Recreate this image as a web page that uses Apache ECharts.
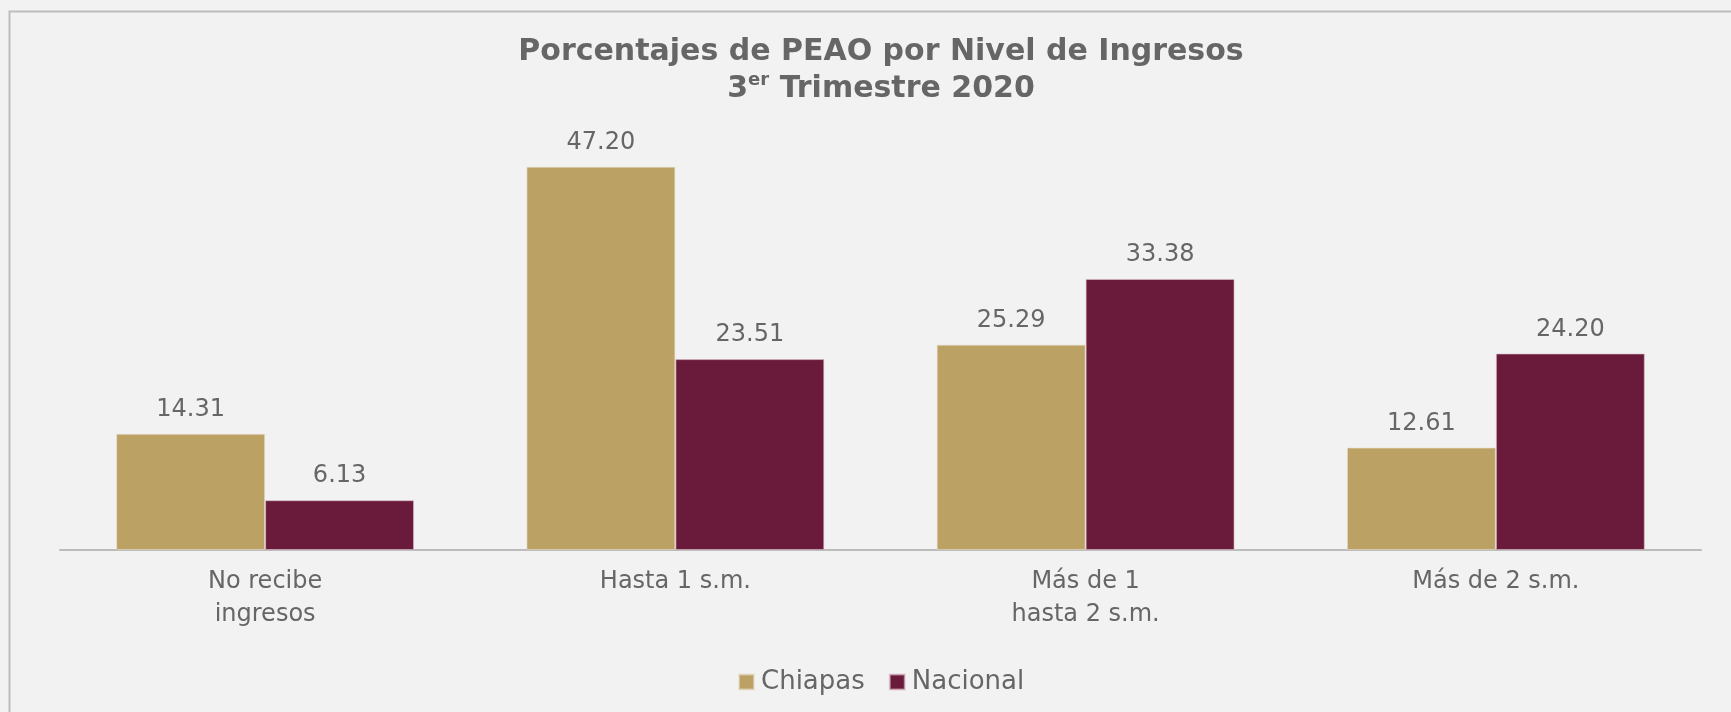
<!DOCTYPE html>
<html>
<head>
<meta charset="utf-8">
<script src="https://cdn.jsdelivr.net/npm/echarts@6/dist/echarts.min.js"></script>
<style>
html,body{margin:0;padding:0;background:#f2f2f2;}
#c{width:1731px;height:712px;}
</style>
</head>
<body>
<div id="c"></div>
<script>
const categories = ['No recibe\ningresos', 'Hasta 1 s.m.', 'Más de 1\nhasta 2 s.m.', 'Más de 2 s.m.'];
const chiapas = [14.31, 47.20, 25.29, 12.61];
const nacional = [6.13, 23.51, 33.38, 24.20];
const seriesNames = ['Chiapas', 'Nacional'];

const FONT = 'DejaVu Sans';
const chart = echarts.init(document.getElementById('c'));
chart.setOption({
  backgroundColor: '#f2f2f2',
  animation: false,
  graphic: [{
    type: 'rect', left: 7, top: 9, silent: true,
    shape: {width: 1800, height: 800},
    style: {fill: 'none', stroke: '#bdbdbd', lineWidth: 2}
  }],
  title: {
    text: 'Porcentajes de PEAO por Nivel de Ingresos\n3{sup|er} Trimestre 2020',
    left: 876, top: 29, textAlign: 'center',
    textStyle: {
      fontFamily: FONT, fontWeight: 'bold', fontSize: 30, color: '#666666', lineHeight: 37,
      rich: {sup: {fontFamily: FONT, fontWeight: 'bold', fontSize: 18, color: '#666666', verticalAlign: 'top', lineHeight: 37, padding: [0,0,10,0]}}
    }
  },
  legend: {
    data: seriesNames,
    left: 733, top: 664,
    itemWidth: 15, itemHeight: 15, itemGap: 24,
    icon: 'rect',
    textStyle: {fontFamily: FONT, fontSize: 26, color: '#666666', padding: [0,0,0,2]}
  },
  grid: {left: 60, right: 30, top: 144, bottom: 162, containLabel: false},
  xAxis: {
    type: 'category', data: categories,
    axisLine: {lineStyle: {color: '#bcbcbc', width: 2}},
    axisTick: {show: false},
    axisLabel: {fontFamily: FONT, fontSize: 24, color: '#666666', lineHeight: 33, margin: 15, interval: 0}
  },
  yAxis: {type: 'value', min: 0, max: 50, show: false, splitLine: {show: false}},
  series: [
    {name: seriesNames[0], type: 'bar', data: chiapas, barGap: '0%', barCategoryGap: '27.4%',
     itemStyle: {color: '#BBA264', borderColor: 'rgba(230,220,200,0.6)', borderWidth: 1},
     label: {show: true, position: 'top', distance: 12, fontFamily: FONT, fontSize: 24, color: '#666666', formatter: p => p.value.toFixed(2)}},
    {name: seriesNames[1], type: 'bar', data: nacional, barGap: '0%', barCategoryGap: '27.4%',
     itemStyle: {color: '#6A1A3A', borderColor: 'rgba(220,190,200,0.6)', borderWidth: 1},
     label: {show: true, position: 'top', distance: 12, fontFamily: FONT, fontSize: 24, color: '#666666', formatter: p => p.value.toFixed(2)}}
  ]
});
</script>
</body>
</html>
